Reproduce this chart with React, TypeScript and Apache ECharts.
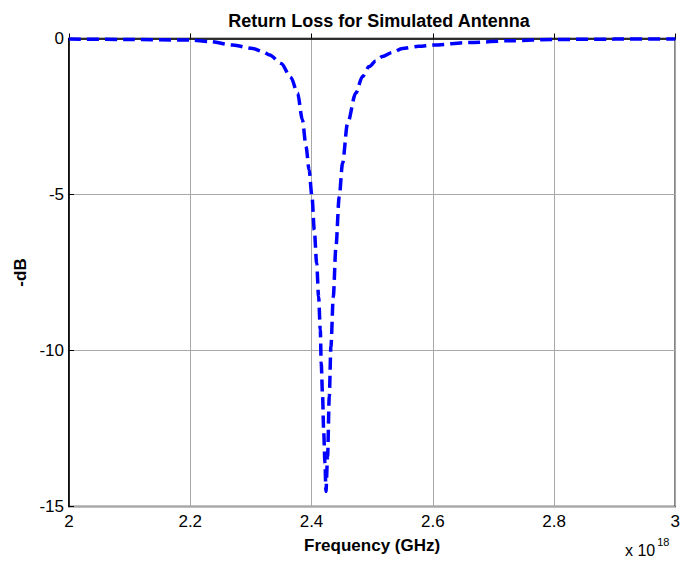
import React, { useEffect, useRef } from "react";
import * as echarts from "echarts";

// Frequency in units of 1e18 (axis shows "x 10^18")
const freq = [
  2.0, 2.1, 2.2, 2.232, 2.27, 2.303, 2.32, 2.331, 2.35, 2.366, 2.377, 2.385, 2.391, 2.396,
  2.4008, 2.4046, 2.4085, 2.4117, 2.4145, 2.416, 2.4183, 2.42, 2.4222, 2.4238,
  2.4265, 2.4293, 2.432, 2.4359, 2.4403, 2.4457, 2.4512, 2.4594, 2.473, 2.484,
  2.495, 2.506, 2.517, 2.533, 2.55, 2.577, 2.6, 2.66, 2.73, 2.8, 2.9, 3.0,
];
const returnLossDb = [
  -0.02, -0.03, -0.05, -0.1, -0.21, -0.32, -0.42, -0.53, -0.8, -1.25, -1.75, -2.61, -3.47, -4.21,
  -5.07, -6.14, -7.2, -8.27, -9.34, -10.41, -11.48, -12.55, -13.6, -14.52,
  -13.4, -11.48, -9.88, -8.28, -6.67, -5.07, -4.0, -2.72, -1.75, -1.22,
  -0.9, -0.72, -0.58, -0.45, -0.32, -0.25, -0.21, -0.13, -0.07, -0.03, -0.02, -0.02,
];

const titleText = "Return Loss for Simulated Antenna";
const xAxisName = "Frequency (GHz)";
const yAxisName = "-dB";

export default function App() {
  const ref = useRef<HTMLDivElement>(null);
  useEffect(() => {
    document.body.style.margin = "0";
    if (!ref.current) return;
    const chart = echarts.init(ref.current, null, { renderer: "svg" });
    const font = "'Liberation Sans', Arial, sans-serif";
    chart.setOption({
      animation: false,
      backgroundColor: "#ffffff",
      textStyle: { fontFamily: font },
      title: {
        text: titleText,
        left: 374,
        top: 7,
        textAlign: "center",
        textStyle: { fontSize: 18, fontWeight: "bold", color: "#000", fontFamily: font },
      },
      grid: {
        left: 69,
        right: 6,
        top: 38.5,
        bottom: 57.5,
        show: true,
        borderColor: "#000",
        borderWidth: 1.5,
        backgroundColor: "#fff",
      },
      xAxis: {
        type: "value",
        min: 2,
        max: 3,
        interval: 0.2,
        name: xAxisName,
        nameLocation: "middle",
        nameGap: 30,
        nameTextStyle: { fontSize: 17, fontWeight: "bold", color: "#000", fontFamily: font },
        axisLine: { show: true, lineStyle: { color: "#000", width: 1.5 } },
        axisTick: { show: true, inside: true, length: 5, lineStyle: { color: "#000" } },
        axisLabel: { fontSize: 17, color: "#000", margin: 6, fontFamily: font },
        splitLine: { show: true, lineStyle: { color: "#a8a8a8", width: 1 } },
      },
      yAxis: {
        type: "value",
        min: -15,
        max: 0,
        interval: 5,
        name: yAxisName,
        nameLocation: "middle",
        nameGap: 40,
        nameRotate: 90,
        nameTextStyle: { fontSize: 17, fontWeight: "bold", color: "#000", fontFamily: font },
        axisLine: { show: true, lineStyle: { color: "#000", width: 1.5 } },
        axisTick: { show: true, inside: true, length: 5, lineStyle: { color: "#000" } },
        axisLabel: { fontSize: 17, color: "#000", margin: 5, fontFamily: font },
        splitLine: { show: true, lineStyle: { color: "#a8a8a8", width: 1 } },
      },
      graphic: [
        {
          type: "text",
          left: 625,
          top: 536,
          style: {
            text: "{a|x 10}{b|18}",
            rich: {
              a: { fontSize: 16, fill: "#000", fontFamily: font, verticalAlign: "bottom", lineHeight: 22 },
              b: { fontSize: 11, fill: "#000", fontFamily: font, verticalAlign: "top", lineHeight: 22, padding: [0, 0, 10, 2] },
            },
          },
        },
      ],
      series: [
        {
          type: "line",
          data: freq.map((f, i) => [f, returnLossDb[i]]),
          showSymbol: false,
          smooth: 0.3,
          smoothMonotone: "x",
          lineStyle: { color: "#0000ff", width: 3.5, type: [12, 6], cap: "butt" },
          clip: true,
        },
      ],
    });
    return () => chart.dispose();
  }, []);
  return <div ref={ref} style={{ width: 683, height: 564 }} />;
}
